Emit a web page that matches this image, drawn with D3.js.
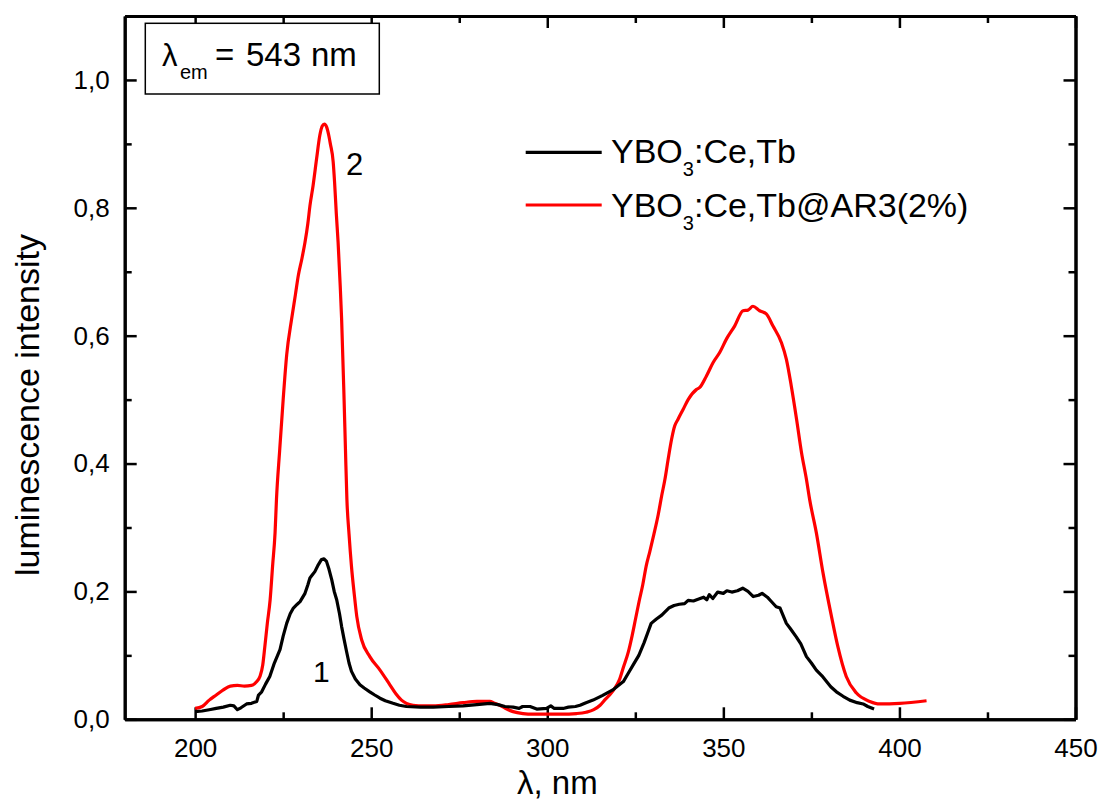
<!DOCTYPE html>
<html>
<head>
<meta charset="utf-8">
<script src="https://cdn.jsdelivr.net/npm/d3@7"></script>
<style>
  html, body { margin: 0; padding: 0; background: #fff; }
  svg { display: block; font-family: Arial, "Liberation Sans", sans-serif; }
</style>
</head>
<body>
<svg id="chart" width="1100" height="801"></svg>
<script>
// Excitation spectra, λem = 543 nm
// Curve 1: YBO3:Ce,Tb  (wavelength nm, intensity)
const wavelengthsPlain = [200,202,204,206,208,210,211,212,213,214.6,216,217.5,218,218.9,220,221.2,222.5,224.1,225,226,227,227.9,229,229.8,231.2,232,232.6,233.3,234,235,235.9,236.6,237.3,238,238.8,239.5,240.2,241,241.6,242.3,243,243.7,244.4,245.5,246.8,248,249.6,251,252.5,254,256.2,258,260,264,267.6,272,276.1,280,283.7,286,288,290.3,292,293,295.1,297,299.8,301,302,304.5,306,308,309.3,311,313,315.6,318.6,320,321.6,323,324.6,326,327.5,328.5,329.5,331,332.5,334.5,336,337.5,339,340,341.5,343,344.4,345.3,346,347,348.4,350,351,352.4,354,355.5,357,358.5,360,361,362.5,363.5,365,366.1,367.9,369,370.7,372,373.6,375,376.4,378,379.3,380.5,382.1,384,385.9,388,389.7,391,392.8];
const intensityPlain = [0.012,0.013,0.015,0.017,0.019,0.022,0.021,0.015,0.018,0.024,0.025,0.028,0.038,0.043,0.055,0.067,0.088,0.109,0.130,0.150,0.165,0.174,0.180,0.184,0.197,0.210,0.221,0.226,0.231,0.242,0.250,0.251,0.247,0.235,0.218,0.200,0.187,0.165,0.145,0.125,0.106,0.088,0.075,0.063,0.054,0.049,0.043,0.038,0.033,0.029,0.025,0.022,0.020,0.019,0.019,0.020,0.021,0.023,0.025,0.023,0.020,0.019,0.017,0.020,0.020,0.016,0.017,0.021,0.017,0.017,0.019,0.020,0.022,0.026,0.030,0.037,0.046,0.052,0.059,0.072,0.087,0.100,0.120,0.135,0.150,0.157,0.163,0.174,0.178,0.180,0.181,0.186,0.185,0.188,0.191,0.187,0.195,0.189,0.199,0.197,0.201,0.199,0.201,0.205,0.200,0.192,0.194,0.197,0.191,0.185,0.176,0.174,0.150,0.142,0.129,0.118,0.098,0.088,0.077,0.068,0.059,0.051,0.043,0.036,0.030,0.026,0.024,0.020,0.016];

// Curve 2: YBO3:Ce,Tb@AR3(2%)
const wavelengthsCoated = [200,202,204,206,208,210,212,214,216,217.3,218.4,219.2,219.8,220.5,221.3,222,222.7,223.1,224,225,226,227.4,228.5,229.3,230.3,231.2,232,232.6,233.5,234.5,235.4,236.1,236.7,237.3,238,238.4,239.2,239.6,240.1,240.6,241.2,241.6,242.3,242.7,243.1,243.7,244.4,245.2,245.9,247.3,249.6,252.5,255.3,257,258.6,260,261.9,265,267.6,272,276.1,280,283.7,285,286.5,288.5,290.3,293.1,296,299.8,304,308.3,311,313.2,315,316.6,318,319.1,320.5,321.6,323,324.1,325.1,326.1,327.1,328.1,329.1,330.3,331.5,332.5,333.4,334.3,335.3,336.2,337.1,338.6,340,342.4,343.3,345.2,347.1,349,350.9,353.2,355.6,357,358.4,360.3,362.2,364.1,366.5,367.9,369.3,370.8,372.2,373.6,374.5,376.4,378.3,380.7,382.5,384.9,387.8,391.6,394.4,400.1,407.7];
const intensityCoated = [0.017,0.020,0.030,0.038,0.046,0.052,0.053,0.052,0.053,0.058,0.067,0.085,0.114,0.150,0.187,0.240,0.292,0.344,0.420,0.500,0.570,0.626,0.665,0.694,0.720,0.746,0.775,0.803,0.835,0.877,0.913,0.928,0.931,0.927,0.912,0.900,0.872,0.840,0.790,0.746,0.678,0.626,0.500,0.420,0.344,0.290,0.239,0.195,0.161,0.124,0.098,0.077,0.054,0.040,0.030,0.025,0.022,0.021,0.021,0.023,0.026,0.028,0.028,0.025,0.022,0.016,0.012,0.009,0.008,0.008,0.008,0.009,0.011,0.015,0.022,0.032,0.040,0.048,0.062,0.081,0.105,0.131,0.158,0.185,0.210,0.240,0.262,0.290,0.320,0.350,0.375,0.406,0.438,0.459,0.469,0.485,0.500,0.516,0.519,0.537,0.558,0.574,0.595,0.615,0.639,0.640,0.646,0.639,0.634,0.615,0.589,0.563,0.521,0.469,0.417,0.375,0.344,0.292,0.229,0.161,0.114,0.067,0.041,0.028,0.024,0.025,0.029];

// Axis ticks
const xMajorTicks = [200, 250, 300, 350, 400, 450];
const xMinorTicks = [225, 275, 325, 375, 425];
const yMajorTicks = [0, 0.2, 0.4, 0.6, 0.8, 1.0];
const yMinorTicks = [0.1, 0.3, 0.5, 0.7, 0.9];
const yTickLabels = ["0,0", "0,2", "0,4", "0,6", "0,8", "1,0"];

const svg = d3.select("#chart");
const plotLeft = 124.7, plotRight = 1075.5, plotTop = 16, plotBottom = 719.3;

const x = d3.scaleLinear().domain([180, 450]).range([plotLeft, plotRight]);
const y = d3.scaleLinear().domain([0, 1.1]).range([plotBottom, plotTop]);

function styleAxis(g, fontSize) {
  g.select(".domain").attr("stroke", "#000").attr("stroke-width", 3);
  g.selectAll(".tick line").attr("stroke", "#000").attr("stroke-width", 2.5);
  g.selectAll(".tick text").attr("fill", "#000").attr("font-size", fontSize)
    .attr("font-family", "Arial, 'Liberation Sans', sans-serif");
}

// bottom axis: major with labels, minor without
const gB = svg.append("g").attr("transform", `translate(0,${plotBottom})`)
  .call(d3.axisBottom(x).tickValues(xMajorTicks).tickSizeInner(-12).tickSizeOuter(0).tickPadding(19).tickFormat(d3.format("d")));
styleAxis(gB, 26);
const gBm = svg.append("g").attr("transform", `translate(0,${plotBottom})`)
  .call(d3.axisBottom(x).tickValues(xMinorTicks).tickSizeInner(-7).tickSizeOuter(0).tickFormat(""));
styleAxis(gBm, 26);

// top axis
const gT = svg.append("g").attr("transform", `translate(0,${plotTop})`)
  .call(d3.axisTop(x).tickValues(xMajorTicks).tickSizeInner(-12).tickSizeOuter(0).tickFormat(""));
styleAxis(gT, 26);
const gTm = svg.append("g").attr("transform", `translate(0,${plotTop})`)
  .call(d3.axisTop(x).tickValues(xMinorTicks).tickSizeInner(-7).tickSizeOuter(0).tickFormat(""));
styleAxis(gTm, 26);

// left axis
const gL = svg.append("g").attr("transform", `translate(${plotLeft},0)`)
  .call(d3.axisLeft(y).tickValues(yMajorTicks).tickSizeInner(-12).tickSizeOuter(0).tickPadding(15)
    .tickFormat((d, i) => yTickLabels[i]));
styleAxis(gL, 26);
const gLm = svg.append("g").attr("transform", `translate(${plotLeft},0)`)
  .call(d3.axisLeft(y).tickValues(yMinorTicks).tickSizeInner(-7).tickSizeOuter(0).tickFormat(""));
styleAxis(gLm, 26);

// right axis
const gR = svg.append("g").attr("transform", `translate(${plotRight},0)`)
  .call(d3.axisRight(y).tickValues(yMajorTicks).tickSizeInner(-12).tickSizeOuter(0).tickFormat(""));
styleAxis(gR, 26);
const gRm = svg.append("g").attr("transform", `translate(${plotRight},0)`)
  .call(d3.axisRight(y).tickValues(yMinorTicks).tickSizeInner(-7).tickSizeOuter(0).tickFormat(""));
styleAxis(gRm, 26);

// spectra
const lineRaw = d3.line().x(d => x(d[0])).y(d => y(d[1]));
const lineSmooth = d3.line().x(d => x(d[0])).y(d => y(d[1])).curve(d3.curveMonotoneX);
const plain = d3.zip(wavelengthsPlain, intensityPlain);
const coated = d3.zip(wavelengthsCoated, intensityCoated);

svg.append("path").datum(coated).attr("d", lineSmooth)
  .attr("fill", "none").attr("stroke", "#ff0000").attr("stroke-width", 3.2).attr("stroke-linejoin", "round");
svg.append("path").datum(plain).attr("d", lineRaw)
  .attr("fill", "none").attr("stroke", "#000").attr("stroke-width", 3.2).attr("stroke-linejoin", "round");

// curve numbers
svg.append("text").attr("x", 313).attr("y", 682).attr("font-size", 30).text("1");
svg.append("text").attr("x", 346).attr("y", 175).attr("font-size", 31).text("2");

// axis titles
svg.append("text").attr("x", 517).attr("y", 794).attr("font-size", 33).text("λ, nm");
svg.append("text").attr("transform", "translate(39,405) rotate(-90)")
  .attr("text-anchor", "middle").attr("font-size", 34).text("luminescence intensity");

// emission wavelength box
svg.append("rect").attr("x", 145.3).attr("y", 23.3).attr("width", 234).attr("height", 70.7)
  .attr("fill", "#fff").attr("stroke", "#000").attr("stroke-width", 1.5);
svg.append("text").attr("x", 162).attr("y", 66).attr("font-size", 31).text("λ");
svg.append("text").attr("x", 180).attr("y", 79).attr("font-size", 20).text("em");
svg.append("text").attr("x", 215).attr("y", 66).attr("font-size", 33).text("=");
svg.append("text").attr("x", 246).attr("y", 66).attr("font-size", 33).text("543");
svg.append("text").attr("x", 311).attr("y", 66).attr("font-size", 33).text("nm");

// legend
const legend = [
  { color: "#000", y: 152.3, base: 163.3, tail: ":Ce,Tb" },
  { color: "#ff0000", y: 205, base: 216.7, tail: ":Ce,Tb@AR3(2%)" }
];
legend.forEach(d => {
  svg.append("line").attr("x1", 525.7).attr("x2", 601.7).attr("y1", d.y).attr("y2", d.y)
    .attr("stroke", d.color).attr("stroke-width", 3.2);
  const t = svg.append("text").attr("x", 611).attr("y", d.base).attr("font-size", 34);
  t.append("tspan").text("YBO");
  t.append("tspan").attr("font-size", 20).attr("dy", 13).text("3");
  t.append("tspan").attr("dy", -13).text(d.tail);
});
</script>
</body>
</html>
